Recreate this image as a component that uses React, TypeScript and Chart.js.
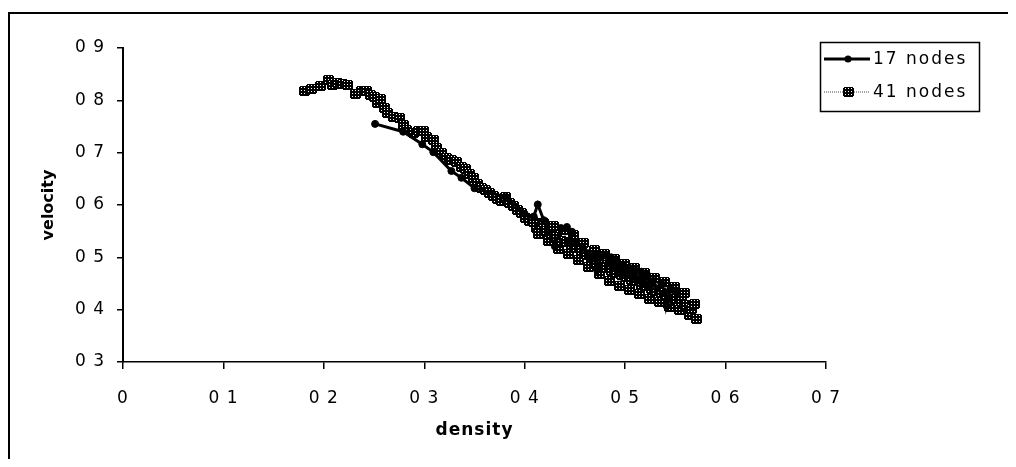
import React, { useEffect, useRef } from "react";
import { Chart, registerables } from "chart.js";

Chart.register(...registerables);

// ---- data ----
const seriesNames = ["17 nodes", "41 nodes"];

const density17 = [
  0.251, 0.279, 0.298, 0.309, 0.327, 0.337, 0.350, 0.381, 0.400, 0.409,
  0.413, 0.419, 0.430, 0.436, 0.442, 0.447, 0.443, 0.450, 0.458, 0.463,
  0.466, 0.470, 0.472, 0.476, 0.480, 0.483, 0.486, 0.489, 0.492, 0.495,
  0.498, 0.501, 0.504, 0.507, 0.510, 0.513, 0.516, 0.519, 0.522, 0.525,
  0.528, 0.532, 0.536, 0.540, 0.541, 0.545, 0.549, 0.552,
];
const velocity17 = [
  0.755, 0.740, 0.716, 0.701, 0.665, 0.652, 0.632, 0.615, 0.583, 0.578,
  0.601, 0.571, 0.521, 0.556, 0.558, 0.549, 0.531, 0.530, 0.518, 0.508,
  0.496, 0.505, 0.476, 0.500, 0.505, 0.488, 0.500, 0.480, 0.492, 0.472,
  0.485, 0.468, 0.480, 0.462, 0.475, 0.456, 0.472, 0.452, 0.466, 0.446,
  0.455, 0.440, 0.450, 0.432, 0.408, 0.440, 0.436, 0.430,
];

const density41 = [
  0.181, 0.188, 0.197, 0.205, 0.209, 0.214, 0.219, 0.224, 0.232, 0.237,
  0.242, 0.246, 0.250, 0.253, 0.256, 0.260, 0.263, 0.269, 0.275, 0.279,
  0.282, 0.289, 0.294, 0.299, 0.302, 0.309, 0.312, 0.317, 0.322, 0.327,
  0.332, 0.337, 0.341, 0.345, 0.349, 0.353, 0.357, 0.361, 0.365, 0.369,
  0.373, 0.377, 0.381, 0.385, 0.389, 0.393, 0.397, 0.401, 0.405,
  0.4090, 0.4115, 0.4140, 0.4165, 0.4190, 0.4215, 0.4240, 0.4265, 0.4290, 0.4315,
  0.4340, 0.4365, 0.4390, 0.4415, 0.4440, 0.4465, 0.4490, 0.4515, 0.4540, 0.4565,
  0.4590, 0.4615, 0.4640, 0.4665, 0.4690, 0.4715, 0.4740, 0.4765, 0.4790, 0.4815,
  0.4840, 0.4865, 0.4890, 0.4915, 0.4940, 0.4965, 0.4990, 0.5015, 0.5040, 0.5065,
  0.5090, 0.5115, 0.5140, 0.5165, 0.5190, 0.5215, 0.5240, 0.5265, 0.5290, 0.5315,
  0.5340, 0.5365, 0.5390, 0.5415, 0.5440, 0.5465, 0.5490, 0.5515, 0.5540, 0.5565,
  0.5590, 0.5615, 0.5640, 0.5665, 0.5690, 0.5715,
];
const velocity41 = [
  0.818, 0.821, 0.827, 0.839, 0.829, 0.834, 0.832, 0.829, 0.813, 0.818,
  0.818, 0.810, 0.806, 0.795, 0.802, 0.785, 0.776, 0.769, 0.766, 0.752,
  0.743, 0.737, 0.742, 0.742, 0.730, 0.724, 0.708, 0.700, 0.689, 0.686,
  0.683, 0.672, 0.668, 0.660, 0.652, 0.640, 0.632, 0.628, 0.622, 0.618,
  0.612, 0.608, 0.616, 0.604, 0.598, 0.590, 0.584, 0.576, 0.570,
  0.568, 0.556, 0.545, 0.556, 0.566, 0.550, 0.532, 0.545, 0.560, 0.538,
  0.515, 0.532, 0.552, 0.530, 0.506, 0.524, 0.542, 0.518, 0.494, 0.512,
  0.528, 0.505, 0.482, 0.498, 0.514, 0.490, 0.468, 0.486, 0.506, 0.480,
  0.455, 0.474, 0.497, 0.470, 0.446, 0.466, 0.488, 0.462, 0.438, 0.457,
  0.480, 0.454, 0.430, 0.448, 0.470, 0.445, 0.421, 0.440, 0.460, 0.436,
  0.414, 0.432, 0.452, 0.428, 0.406, 0.424, 0.444, 0.420, 0.400, 0.414,
  0.432, 0.408, 0.390, 0.402, 0.410, 0.382,
];

const xTickLabels = ["0", "0 1", "0 2", "0 3", "0 4", "0 5", "0 6", "0 7"];
const yTickLabels = ["0 3", "0 4", "0 5", "0 6", "0 7", "0 8", "0 9"];
const xTitle = "density";
const yTitle = "velocity";

const FONT = "'DejaVu Sans', 'Liberation Sans', sans-serif";

function makeHatchMarker(): HTMLCanvasElement {
  const w = 11;
  const h = 10;
  const c = document.createElement("canvas");
  c.width = w;
  c.height = h;
  const g = c.getContext("2d")!;
  const img = g.createImageData(w, h);
  for (let y = 0; y < h; y++) {
    for (let x = 0; x < w; x++) {
      const corner = (x === 0 || x === w - 1) && (y === 0 || y === h - 1);
      const i = (y * w + x) * 4;
      if (corner) {
        img.data[i + 3] = 0;
        continue;
      }
      const white = x % 3 === 2 && y % 3 === 1;
      const v = white ? 255 : 0;
      img.data[i] = v;
      img.data[i + 1] = v;
      img.data[i + 2] = v;
      img.data[i + 3] = 255;
    }
  }
  g.putImageData(img, 0, 0);
  return c;
}

export default function App() {
  const ref = useRef<HTMLCanvasElement | null>(null);

  useEffect(() => {
    const canvas = ref.current;
    if (!canvas) return;
    const marker = makeHatchMarker();

    const decor = {
      id: "decor",
      beforeDraw(chart: any) {
        const ctx = chart.ctx;
        ctx.imageSmoothingEnabled = false;
        ctx.letterSpacing = "1px";
      },
      afterDraw(chart: any) {
        const ctx = chart.ctx;
        ctx.save();
        // outer frame (top + left)
        ctx.fillStyle = "#000";
        ctx.fillRect(0, 4, 1000, 2);
        ctx.fillRect(0, 4, 2, 447);

        // legend box
        ctx.strokeStyle = "#000";
        ctx.lineWidth = 1.5;
        ctx.strokeRect(812.5, 34.5, 159, 69);

        ctx.font = `17px ${FONT}`;
        ctx.textAlign = "left";
        ctx.textBaseline = "middle";
        ctx.letterSpacing = "2px";

        // row 1
        const y1 = 51;
        ctx.beginPath();
        ctx.lineWidth = 3;
        ctx.setLineDash([]);
        ctx.moveTo(816, y1);
        ctx.lineTo(862, y1);
        ctx.stroke();
        ctx.beginPath();
        ctx.arc(840, y1, 3.5, 0, Math.PI * 2);
        ctx.fill();
        ctx.fillText(seriesNames[0], 865, y1 + 1);

        // row 2
        const y2 = 84;
        ctx.beginPath();
        ctx.lineWidth = 1;
        ctx.strokeStyle = "#444";
        ctx.setLineDash([1, 1]);
        ctx.moveTo(816, y2);
        ctx.lineTo(862, y2);
        ctx.stroke();
        ctx.setLineDash([]);
        ctx.drawImage(marker, 840 - 5, y2 - 5);
        ctx.fillStyle = "#000";
        ctx.fillText(seriesNames[1], 865, y2 + 1);

        // y title
        ctx.letterSpacing = "0px";
        ctx.font = `bold 16px ${FONT}`;
        ctx.translate(41, 197);
        ctx.rotate(-Math.PI / 2);
        ctx.textAlign = "center";
        ctx.fillText(yTitle, 0, 0);
        ctx.restore();
      },
    };

    const chart = new Chart(canvas, {
      type: "scatter",
      data: {
        datasets: [
          {
            label: seriesNames[0],
            data: density17.map((x, i) => ({ x, y: velocity17[i] })),
            showLine: true,
            borderColor: "#000",
            backgroundColor: "#000",
            borderWidth: 3,
            pointStyle: "circle",
            pointRadius: 3.5,
            pointHoverRadius: 3.5,
            pointBackgroundColor: "#000",
            pointBorderColor: "#000",
            pointBorderWidth: 1,
          },
          {
            label: seriesNames[1],
            data: density41.map((x, i) => ({ x, y: velocity41[i] })),
            showLine: true,
            borderColor: "#444",
            borderWidth: 1,
            borderDash: [1, 1],
            pointStyle: marker as any,
            pointRadius: 4,
            pointHoverRadius: 4,
          },
        ],
      },
      options: {
        responsive: false,
        animation: false,
        devicePixelRatio: 1,
        layout: { padding: { top: 40, right: 182, left: 0, bottom: 0 } },
        plugins: { legend: { display: false }, tooltip: { enabled: false } },
        scales: {
          x: {
            type: "linear",
            min: 0,
            max: 0.7,
            ticks: {
              stepSize: 0.1,
              autoSkip: false,
              maxRotation: 0,
              color: "#000",
              padding: 19,
              font: { family: FONT, size: 17 },
              callback: (_v: any, i: number) => xTickLabels[i],
            },
            grid: {
              drawOnChartArea: false,
              drawTicks: true,
              tickLength: 7,
              color: "#000",
              lineWidth: 1.5,
            },
            border: { display: true, color: "#000", width: 1.5 },
            title: {
              display: true,
              text: xTitle,
              color: "#000",
              font: { family: FONT, size: 17, weight: "bold" },
              padding: { top: 0, bottom: 18 },
            },
            afterFit: (s: any) => {
              s.height = 97;
            },
          },
          y: {
            type: "linear",
            min: 0.3,
            max: 0.9,
            ticks: {
              stepSize: 0.1,
              autoSkip: false,
              color: "#000",
              padding: 12,
              font: { family: FONT, size: 17 },
              callback: (_v: any, i: number) => yTickLabels[i],
            },
            grid: {
              drawOnChartArea: false,
              drawTicks: true,
              tickLength: 6,
              color: "#000",
              lineWidth: 1.5,
            },
            border: { display: true, color: "#000", width: 2 },
            title: { display: false },
            afterFit: (s: any) => {
              s.width = 115;
            },
          },
        },
      },
      plugins: [decor],
    } as any);

    return () => chart.destroy();
  }, []);

  return (
    <div style={{ width: 1000, height: 451 }}>
      <canvas ref={ref} width={1000} height={451} style={{ display: "block" }} />
    </div>
  );
}
